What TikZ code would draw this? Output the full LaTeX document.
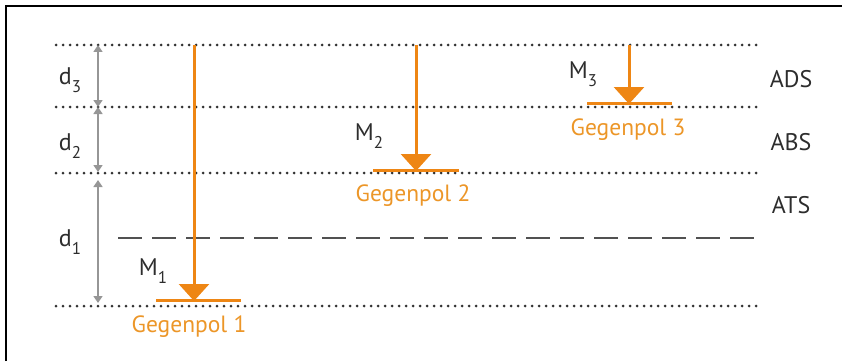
\documentclass[tikz,border=0pt]{standalone}
\usepackage{fontspec}
\setmainfont{PT Sans}
\usetikzlibrary{arrows.meta}
\definecolor{pole}{RGB}{238,134,20}
\definecolor{poletext}{RGB}{236,150,40}
\definecolor{levelgray}{RGB}{50,50,50}
\definecolor{dimgray}{RGB}{150,150,150}
\definecolor{labelgray}{RGB}{45,45,45}
\newcommand{\lowidx}[1]{\raisebox{-0.32em}{\fontsize{17}{17}\selectfont #1}}
\tikzset{
  level/.style={levelgray, line width=3pt, line cap=round, dash pattern=on 0pt off 7pt},
  midline/.style={levelgray!85, line width=2.8pt, dash pattern=on 24pt off 10pt},
  dimarrow/.style={dimgray, line width=1.6pt, {Triangle[width=9pt,length=7pt]}-{Triangle[width=9pt,length=7pt]}},
  polearrow/.style={pole, line width=3pt, -{Triangle[width=30pt,length=17pt]}},
  polebar/.style={pole, line width=3pt},
  poletag/.style={poletext, font=\fontsize{23.5}{23.5}\selectfont, inner sep=0pt},
  mtag/.style={labelgray, font=\fontsize{24}{24}\selectfont, inner sep=0pt},
  zonetag/.style={labelgray, font=\fontsize{24}{24}\selectfont, inner sep=0pt},
}
\begin{document}
\begin{tikzpicture}[x=1pt, y=-1pt]
  \useasboundingbox (0,0) rectangle (842,361);
  % frame on the left and top edges
  \draw[black, line width=2.5pt] (6,361) -- (6,6) -- (842,6);

  % boundary levels
  \coordinate (l0a) at (56,45);  \coordinate (l0b) at (760,45);
  \coordinate (l1a) at (56,107); \coordinate (l1b) at (760,107);
  \coordinate (l2a) at (56,173); \coordinate (l2b) at (760,173);
  \coordinate (l3a) at (56,306); \coordinate (l3b) at (760,306);
  \draw[level] (l0a) -- (l0b);
  \draw[level] (l1a) -- (l1b);
  \draw[level] (l2a) -- (l2b);
  \draw[level] (l3a) -- (l3b);
  \coordinate (ma) at (118,238); \coordinate (mb) at (760,238);
  \draw[midline] (ma) -- (mb);

  % dimension arrows
  \coordinate (d3t) at (98,45);  \coordinate (d3b) at (98,107);
  \coordinate (d2t) at (98,107); \coordinate (d2b) at (98,172);
  \coordinate (d1t) at (98,180); \coordinate (d1b) at (98,303);
  \draw[dimarrow] (d3t) -- (d3b);
  \draw[dimarrow] (d2t) -- (d2b);
  \draw[dimarrow] (d1t) -- (d1b);
  \node[mtag] (d3) at (70,80) {d\lowidx{3}};
  \node[mtag] (d2) at (70,146) {d\lowidx{2}};
  \node[mtag] (d1) at (70,242) {d\lowidx{1}};

  % pole 1
  \coordinate (p1s) at (194,45); \coordinate (p1e) at (194,301);
  \coordinate (b1a) at (156,300); \coordinate (b1b) at (241,300);
  \draw[polebar] (b1a) -- (b1b);
  \draw[polearrow] (p1s) -- (p1e);
  \node[poletag] (g1) at (189,327) {Gegenpol 1};
  \node[mtag] (m1) at (153,271) {M\lowidx{1}};

  % pole 2
  \coordinate (p2s) at (416,45); \coordinate (p2e) at (416,171);
  \coordinate (b2a) at (373,170); \coordinate (b2b) at (459,170);
  \draw[polebar] (b2a) -- (b2b);
  \draw[polearrow] (p2s) -- (p2e);
  \node[poletag] (g2) at (413,196) {Gegenpol 2};
  \node[mtag] (m2) at (369,136) {M\lowidx{2}};

  % pole 3
  \coordinate (p3s) at (629,45); \coordinate (p3e) at (629,104);
  \coordinate (b3a) at (587,103); \coordinate (b3b) at (672,103);
  \draw[polebar] (b3a) -- (b3b);
  \draw[polearrow] (p3s) -- (p3e);
  \node[poletag] (g3) at (628,130) {Gegenpol 3};
  \node[mtag] (m3) at (583,74) {M\lowidx{3}};

  % zone names
  \node[zonetag] (ads) at (791,79) {ADS};
  \node[zonetag] (abs) at (791,142) {ABS};
  \node[zonetag] (ats) at (791,205) {ATS};
\end{tikzpicture}
\end{document}
